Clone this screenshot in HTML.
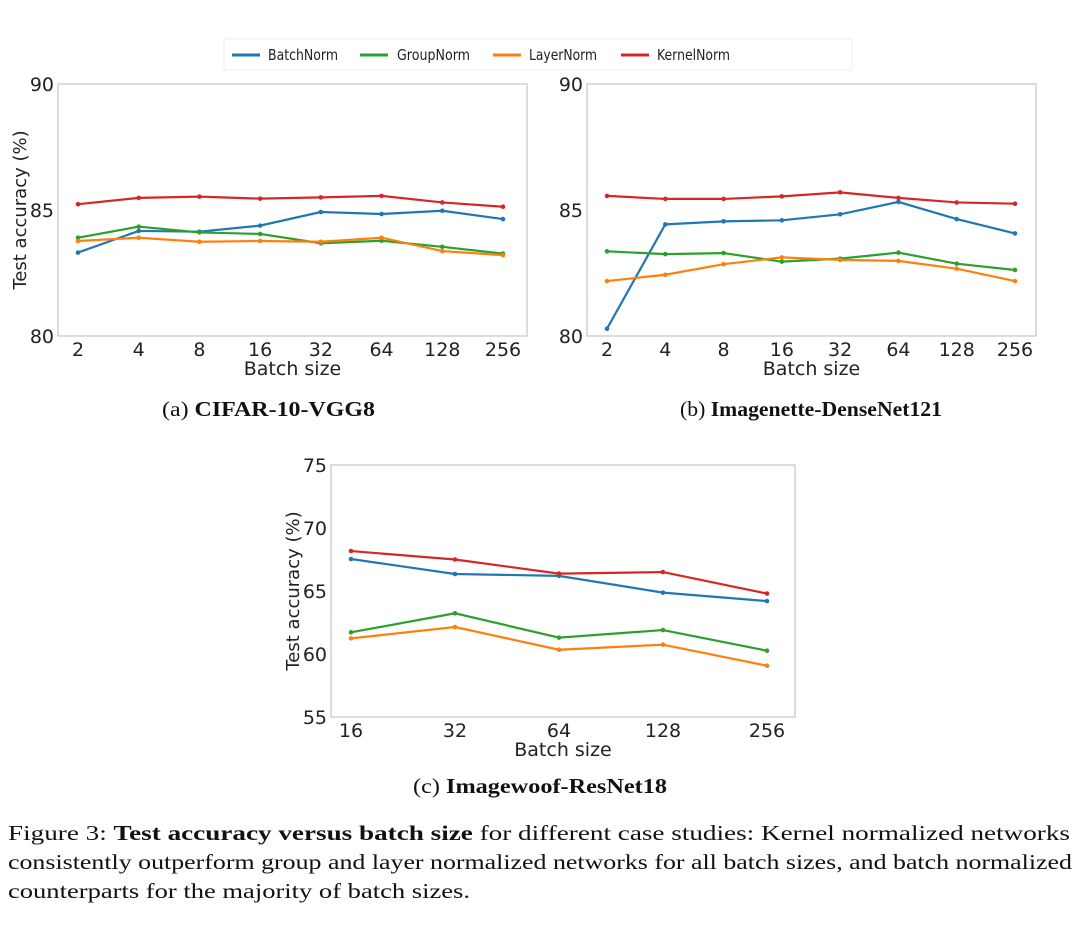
<!DOCTYPE html>
<html><head><meta charset="utf-8"><style>
body{margin:0;background:#fff;width:1080px;height:938px;overflow:hidden}
svg text{font-family:"DejaVu Sans",sans-serif;fill:#222}
.cap{font-family:"Liberation Serif",serif;fill:#111}
</style></head><body>
<svg id="fig" width="1080" height="938" xmlns="http://www.w3.org/2000/svg">
<g>
<rect x="224" y="39" width="628" height="31" fill="#fff" stroke="#eee"/>
<line x1="232" y1="55" x2="260" y2="55" stroke="#1f77b4" stroke-width="3"/><text x="268" y="60" font-size="15" textLength="70" lengthAdjust="spacingAndGlyphs">BatchNorm</text>
<line x1="360" y1="55" x2="388" y2="55" stroke="#2ca02c" stroke-width="3"/><text x="397" y="60" font-size="15" textLength="73" lengthAdjust="spacingAndGlyphs">GroupNorm</text>
<line x1="493" y1="55" x2="521" y2="55" stroke="#ff7f0e" stroke-width="3"/><text x="529" y="60" font-size="15" textLength="68" lengthAdjust="spacingAndGlyphs">LayerNorm</text>
<line x1="621" y1="55" x2="649" y2="55" stroke="#d62728" stroke-width="3"/><text x="657" y="60" font-size="15" textLength="73" lengthAdjust="spacingAndGlyphs">KernelNorm</text>
</g>
<text class="cap" x="162" y="416" font-size="21" textLength="213" lengthAdjust="spacingAndGlyphs">(a) <tspan font-weight="bold">CIFAR-10-VGG8</tspan></text>
<text class="cap" x="680" y="416" font-size="21" textLength="262" lengthAdjust="spacingAndGlyphs">(b) <tspan font-weight="bold">Imagenette-DenseNet121</tspan></text>
<text class="cap" x="413" y="793" font-size="21" textLength="254" lengthAdjust="spacingAndGlyphs">(c) <tspan font-weight="bold">Imagewoof-ResNet18</tspan></text>
<g>
<text class="cap" x="8" y="840" font-size="21.5" textLength="1062" lengthAdjust="spacingAndGlyphs">Figure 3: <tspan font-weight="bold">Test accuracy versus batch size</tspan> for different case studies: Kernel normalized networks</text>
<text class="cap" x="8" y="869" font-size="21.5" textLength="1064" lengthAdjust="spacingAndGlyphs">consistently outperform group and layer normalized networks for all batch sizes, and batch normalized</text>
<text class="cap" x="8" y="898" font-size="21.5" textLength="462" lengthAdjust="spacingAndGlyphs">counterparts for the majority of batch sizes.</text>
</g>
</svg>
<script>
const colors = {bn:'#1f77b4', gn:'#2ca02c', ln:'#ff7f0e', kn:'#d62728'};
const catsAB = ['2','4','8','16','32','64','128','256'];
const catsC = ['16','32','64','128','256'];
const aBN = [83.31,84.17,84.14,84.38,84.92,84.84,84.97,84.64];
const aGN = [83.9,84.34,84.11,84.05,83.68,83.78,83.54,83.27];
const aLN = [83.77,83.9,83.74,83.77,83.74,83.9,83.37,83.21];
const aKN = [85.23,85.48,85.53,85.45,85.5,85.56,85.3,85.13];
const bBN = [80.29,84.43,84.55,84.59,84.83,85.32,84.64,84.07];
const bGN = [83.36,83.25,83.29,82.95,83.07,83.31,82.87,82.62];
const bLN = [82.18,82.43,82.85,83.12,83.02,82.98,82.67,82.18];
const bKN = [85.56,85.44,85.44,85.54,85.7,85.48,85.3,85.25];
const cBN = [67.54,66.35,66.2,64.87,64.2];
const cGN = [61.72,63.23,61.3,61.9,60.26];
const cLN = [61.24,62.14,60.34,60.74,59.07];
const cKN = [68.17,67.5,66.38,66.5,64.8];
const ticksAB = [80,85,90];
const ticksC = [55,60,65,70,75];
const NS='http://www.w3.org/2000/svg';
const svg=document.getElementById('fig');
function mk(t,a,p){const e=document.createElementNS(NS,t);for(const k in a)e.setAttribute(k,a[k]);(p||svg).appendChild(e);return e;}
function panel(id,box,xf,yMin,yMax,cats,yticks,series,ytitle){
  const g=mk('g',{});
  
  
  const [x0,y0,x1,y1]=box;
  const ys=v=>y1-(v-yMin)/(yMax-yMin)*(y1-y0);
  const xs=i=>xf[0]+i*(xf[1]-xf[0])/(cats.length-1);
  const r=mk('rect',{x:x0,y:y0,width:x1-x0,height:y1-y0,fill:'none',stroke:'#bbb','stroke-width':1},g);
  
  
  yticks.forEach(v=>{const t=mk('text',{x:x0-4,y:ys(v)+7,'font-size':19,'text-anchor':'end'},g);t.textContent=v;
    
    });
  cats.forEach((c,i)=>{const t=mk('text',{x:xs(i),y:y1+20,'font-size':19,'text-anchor':'middle'},g);t.textContent=c;
    
    });
  const xt=mk('text',{x:(x0+x1)/2,y:y1+39,'font-size':19,'text-anchor':'middle'},g);xt.textContent='Batch size';
  
  
  if(ytitle){const yt=mk('text',{x:0,y:0,'font-size':18,'text-anchor':'middle',transform:`translate(${x0-32},${(y0+y1)/2}) rotate(-90)`},g);yt.textContent='Test accuracy (%)';
    
    }
  series.forEach(([name,vals,col])=>{
    const pl=mk('polyline',{points:vals.map((v,i)=>xs(i)+','+ys(v)).join(' '),fill:'none',stroke:col,'stroke-width':2.2},g);
    
    
    vals.forEach((v,i)=>{const c=mk('circle',{cx:xs(i),cy:ys(v),r:2.3,fill:col},g);
      
      });
  });
}
panel('panel-a-cifar10',[58,84,527,336],[78,503],80,90,catsAB,ticksAB,
 [['batchnorm',aBN,colors.bn],['groupnorm',aGN,colors.gn],['layernorm',aLN,colors.ln],['kernelnorm',aKN,colors.kn]],true);
panel('panel-b-imagenette',[587,84,1036,336],[607,1015],80,90,catsAB,ticksAB,
 [['batchnorm',bBN,colors.bn],['groupnorm',bGN,colors.gn],['layernorm',bLN,colors.ln],['kernelnorm',bKN,colors.kn]],false);
panel('panel-c-imagewoof',[331,465,795,717],[351,767],55,75,catsC,ticksC,
 [['batchnorm',cBN,colors.bn],['groupnorm',cGN,colors.gn],['layernorm',cLN,colors.ln],['kernelnorm',cKN,colors.kn]],true);
</script>
</body></html>
